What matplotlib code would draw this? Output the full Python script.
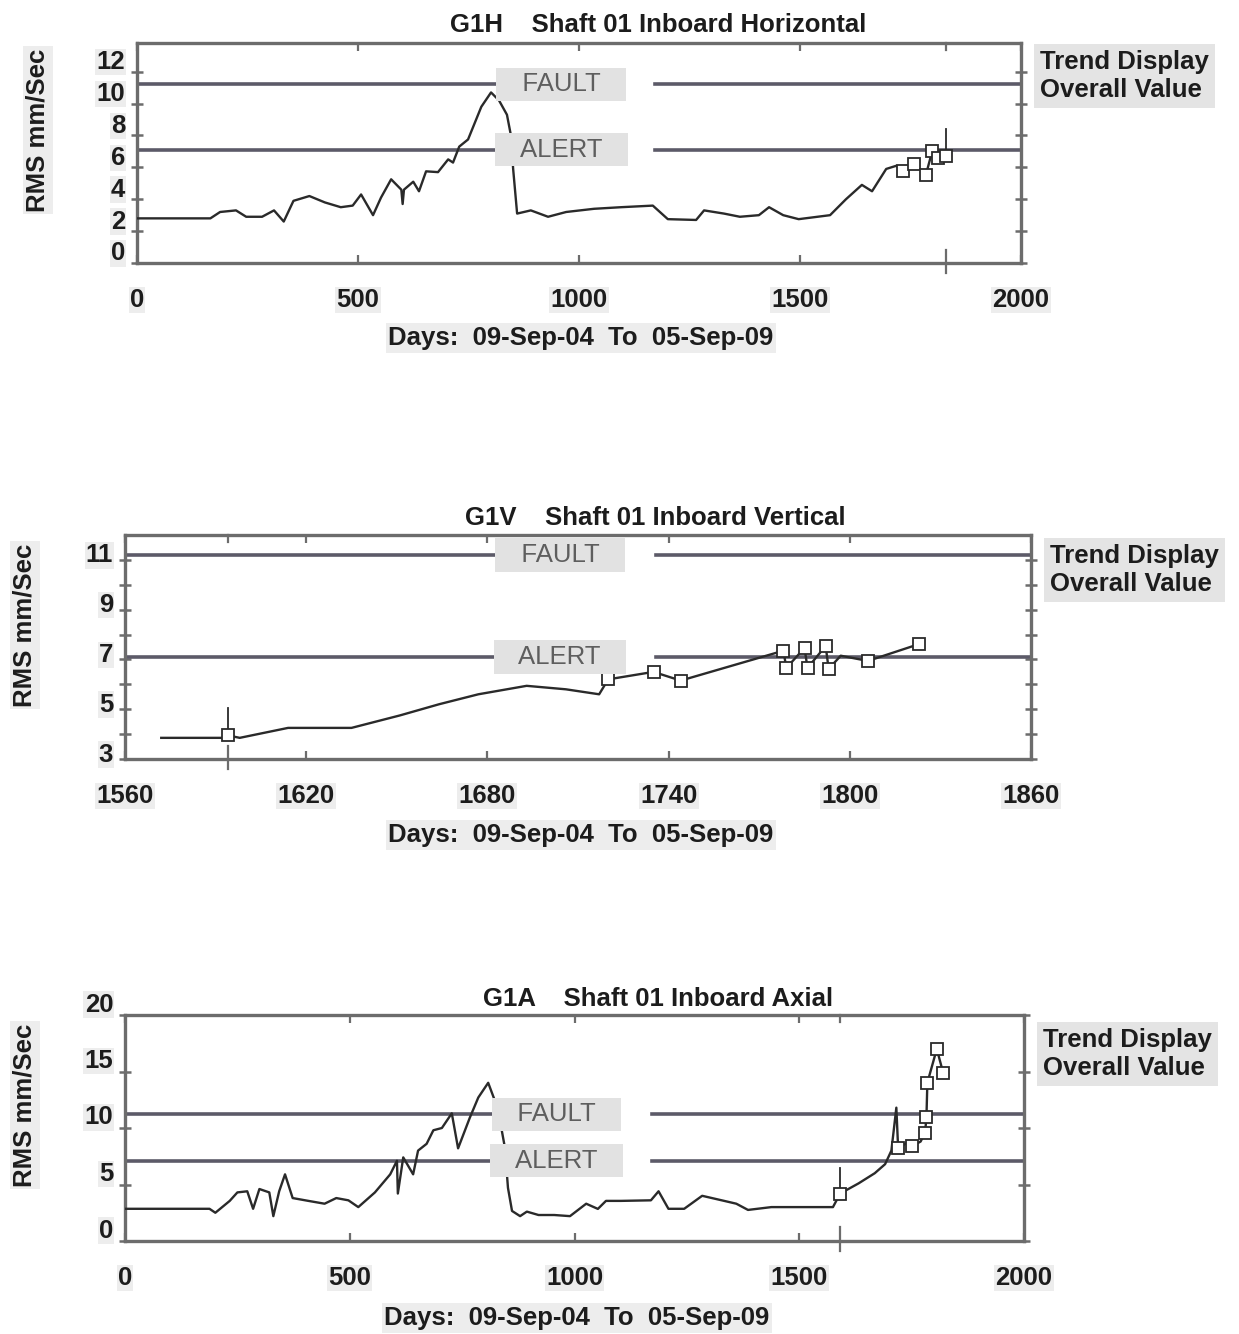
import matplotlib
matplotlib.use("Agg")
import matplotlib.pyplot as plt
import matplotlib.transforms as mtransforms
import numpy as np

plt.rcParams['font.family'] = ['Liberation Sans', 'DejaVu Sans']

W, H, DPI = 1239, 1334, 100

# Alarm levels (mm/s RMS)
FAULT_LEVEL = 11.2
ALERT_LEVEL = 7.1

X_LABEL = "Days:  09-Sep-04  To  05-Sep-09"
Y_LABEL = "RMS mm/Sec"
LEGEND_TEXT = "Trend Display\nOverall Value"

# ---- G1H  Shaft 01 Inboard Horizontal ----
g1h_title = "G1H    Shaft 01 Inboard Horizontal"
g1h_days = [0, 166, 188, 224, 247, 283, 310, 332, 354, 390,
            425, 461, 488, 507, 534, 552, 575, 598, 601, 604,
            625, 638, 654, 681, 704, 715, 729, 749, 779, 801,
            819, 837, 846, 851, 860, 891, 930, 971, 1034, 1095,
            1167, 1201, 1265, 1283, 1328, 1364, 1407, 1430, 1462, 1497,
            1568, 1604, 1640, 1663, 1695, 1718]
g1h_vals = [2.8, 2.8, 3.2, 3.3, 2.9, 2.9, 3.3, 2.6, 3.9, 4.2,
            3.8, 3.5, 3.6, 4.3, 3.0, 4.1, 5.25, 4.6, 3.7, 4.6,
            5.1, 4.5, 5.75, 5.7, 6.5, 6.3, 7.3, 7.75, 9.8, 10.7,
            10.2, 9.3, 8.0, 5.9, 3.1, 3.3, 2.9, 3.2, 3.4, 3.5,
            3.6, 2.75, 2.7, 3.3, 3.1, 2.9, 3.0, 3.5, 3.0, 2.75,
            3.0, 4.0, 4.9, 4.5, 5.9, 6.1]
g1h_mark_days = [1733, 1758, 1785, 1799, 1812, 1830]
g1h_mark_vals = [5.75, 6.2, 5.55, 7.0, 6.6, 6.7]
g1h_cursor_day, g1h_cursor_top = 1830, 8.4
g1h_xticks = [0, 500, 1000, 1500, 2000]
g1h_yticks = [0, 2, 4, 6, 8, 10, 12]

# ---- G1V  Shaft 01 Inboard Vertical ----
g1v_title = "G1V    Shaft 01 Inboard Vertical"
g1v_days = [1572, 1592, 1598, 1614, 1635, 1651, 1664, 1677, 1693, 1706, 1717, 1797]
g1v_vals = [3.85, 3.85, 3.85, 4.25, 4.25, 4.75, 5.2, 5.6, 5.94, 5.8, 5.6, 7.15]
g1v_mark_days = [1594, 1720, 1735, 1744, 1778, 1779, 1785, 1786, 1792, 1793, 1806, 1823]
g1v_mark_vals = [3.95, 6.2, 6.5, 6.15, 7.35, 6.66, 7.46, 6.66, 7.54, 6.62, 6.94, 7.62]
g1v_cursor_day, g1v_cursor_top = 1594, 5.05
g1v_xticks = [1560, 1620, 1680, 1740, 1800, 1860]
g1v_yticks = [3, 5, 7, 9, 11]
g1v_yminor = [4, 6, 8, 10]

# ---- G1A  Shaft 01 Inboard Axial ----
g1a_title = "G1A    Shaft 01 Inboard Axial"
g1a_days = [2, 188, 201, 233, 250, 272, 285, 299, 321, 330,
            343, 356, 373, 408, 444, 470, 497, 519, 556, 590,
            605, 607, 619, 641, 652, 671, 686, 705, 727, 741,
            767, 786, 808, 823, 834, 845, 852, 861, 879, 894,
            920, 955, 990, 1026, 1052, 1070, 1103, 1170, 1187, 1209,
            1244, 1284, 1333, 1360, 1386, 1438, 1518, 1575, 1632, 1668,
            1691, 1705, 1716, 1740, 1770]
g1a_vals = [2.85, 2.85, 2.5, 3.55, 4.3, 4.4, 2.85, 4.6, 4.3, 2.2,
            4.4, 5.9, 3.8, 3.55, 3.3, 3.8, 3.6, 3.0, 4.3, 5.9,
            7.1, 4.2, 7.4, 5.9, 8.0, 8.6, 9.8, 10.0, 11.3, 8.2,
            10.9, 12.7, 14.0, 12.4, 10.7, 8.3, 4.7, 2.66, 2.2, 2.6,
            2.3, 2.3, 2.2, 3.3, 2.84, 3.55, 3.55, 3.6, 4.4, 2.85,
            2.85, 4.0, 3.55, 3.3, 2.75, 3.0, 3.0, 3.0, 5.1, 6.0,
            6.8, 8.0, 11.8, 8.7, 8.8]
g1a_mark_days = [1591, 1720, 1751, 1780, 1783, 1785, 1806, 1820]
g1a_mark_vals = [4.2, 8.2, 8.4, 9.6, 11.0, 14.0, 17.0, 14.9]
g1a_cursor_day, g1a_cursor_top = 1591, 6.5
g1a_xticks = [0, 500, 1000, 1500, 2000]
g1a_yticks = [0, 5, 10, 15, 20]

# ---- styling ----
TEXT = '#1c1c1c'
SPINE = '#6c6c6c'
REF = '#5c5a68'
LINE = '#2a2a2a'
LABEL_BG = '#ededed'
FS = 18.5

fig = plt.figure(figsize=(W / DPI, H / DPI), dpi=DPI)
fig.patch.set_facecolor('white')


def px_axes(left, top, right, bottom):
    return fig.add_axes([left / W, 1 - bottom / H, (right - left) / W, (bottom - top) / H])


def fig_text(x, y, s, **kw):
    return fig.text(x / W, 1 - y / H, s, **kw)


def draw_panel(ax, days, vals, mdays, mvals, cur_day, cur_top, xlim, ylim,
               xticks, yticks, yminor, ylab_shift):
    d = np.array(list(days) + list(mdays), dtype=float)
    v = np.array(list(vals) + list(mvals), dtype=float)
    order = np.argsort(d, kind='stable')
    ax.plot(d[order], v[order], color=LINE, lw=1.7, zorder=3)
    ax.plot(mdays, mvals, ls='none', marker='s', ms=8.5, mfc='white',
            mec=LINE, mew=1.3, zorder=4)

    # cursor at the selected sample
    base = mvals[list(mdays).index(cur_day)]
    ax.plot([cur_day, cur_day], [base, cur_top], color=LINE, lw=1.3, zorder=3)
    xt = mtransforms.blended_transform_factory(ax.transData, ax.transAxes)
    ax.plot([cur_day, cur_day], [-0.045, 0.06], transform=xt, color=SPINE,
            lw=1.6, clip_on=False, zorder=6)
    ax.plot([cur_day, cur_day], [0.97, 1.0], transform=xt, color=SPINE,
            lw=1.6, clip_on=False, zorder=6)

    # alarm levels with their labels
    yt = mtransforms.blended_transform_factory(ax.transAxes, ax.transData)
    for level, name in ((FAULT_LEVEL, 'FAULT'), (ALERT_LEVEL, 'ALERT')):
        ax.plot([0, 0.41], [level, level], transform=yt, color=REF, lw=2.6, zorder=2)
        ax.plot([0.586, 1], [level, level], transform=yt, color=REF, lw=2.6, zorder=2)
        ax.text(0.48, level, "   " + name + "   ", transform=yt, ha='center', va='center',
                fontsize=FS, color='#5e5e5e',
                bbox=dict(boxstyle='square,pad=0.18', fc='#e2e2e2', ec='none'), zorder=5)

    ax.set_xlim(*xlim)
    ax.set_ylim(*ylim)
    ax.set_xticks(xticks)
    ax.set_xticklabels([str(t) for t in xticks])
    ax.set_yticks(yticks)
    ax.set_yticklabels([str(t) for t in yticks])
    if yminor:
        ax.set_yticks(yminor, minor=True)
    ax.tick_params(axis='x', direction='in', length=6, width=1.6, color=SPINE,
                   top=True, pad=18, labelsize=FS, labelcolor=TEXT)
    ax.tick_params(axis='y', which='both', direction='inout', length=9, width=1.8,
                   color=SPINE, right=True, pad=4, labelsize=FS, labelcolor=TEXT)
    for spine in ax.spines.values():
        spine.set_color(SPINE)
        spine.set_linewidth(2.4)
    shift = mtransforms.ScaledTranslation(0, ylab_shift / DPI, fig.dpi_scale_trans)
    for lab in ax.get_yticklabels():
        lab.set_transform(lab.get_transform() + shift)
    for lab in ax.get_xticklabels() + ax.get_yticklabels():
        lab.set_fontweight('bold')
        lab.set_bbox(dict(fc=LABEL_BG, ec='none', pad=1))


bold = dict(fontsize=FS, fontweight='bold', color=TEXT)
lbl_box = dict(boxstyle='square,pad=0.1', fc=LABEL_BG, ec='none')
leg_box = dict(boxstyle='square,pad=0.25', fc='#e4e4e4', ec='none')

# G1H
ax1 = px_axes(137, 43, 1021, 263)
draw_panel(ax1, g1h_days, g1h_vals, g1h_mark_days, g1h_mark_vals,
           g1h_cursor_day, g1h_cursor_top, (0, 2000), (0, 13.8),
           g1h_xticks, g1h_yticks, None, 12)
fig_text(658, 25, g1h_title, ha='center', va='center', **bold)
fig_text(581, 338, X_LABEL, ha='center', va='center', bbox=lbl_box, **bold)
fig_text(38, 130, Y_LABEL, ha='center', va='center', rotation=90, bbox=lbl_box, **bold)
fig_text(1040, 76, LEGEND_TEXT, ha='left', va='center', linespacing=1.2, bbox=leg_box, **bold)

# G1V
ax2 = px_axes(125, 535, 1031, 759)
draw_panel(ax2, g1v_days, g1v_vals, g1v_mark_days, g1v_mark_vals,
           g1v_cursor_day, g1v_cursor_top, (1560, 1860), (3, 12),
           g1v_xticks, g1v_yticks, g1v_yminor, 7)
fig_text(655, 518, g1v_title, ha='center', va='center', **bold)
fig_text(581, 835, X_LABEL, ha='center', va='center', bbox=lbl_box, **bold)
fig_text(25, 625, Y_LABEL, ha='center', va='center', rotation=90, bbox=lbl_box, **bold)
fig_text(1050, 570, LEGEND_TEXT, ha='left', va='center', linespacing=1.2, bbox=leg_box, **bold)

# G1A
ax3 = px_axes(125, 1015, 1024, 1241)
draw_panel(ax3, g1a_days, g1a_vals, g1a_mark_days, g1a_mark_vals,
           g1a_cursor_day, g1a_cursor_top, (0, 2000), (0, 20),
           g1a_xticks, g1a_yticks, None, 13)
fig_text(658, 999, g1a_title, ha='center', va='center', **bold)
fig_text(577, 1318, X_LABEL, ha='center', va='center', bbox=lbl_box, **bold)
fig_text(25, 1105, Y_LABEL, ha='center', va='center', rotation=90, bbox=lbl_box, **bold)
fig_text(1043, 1054, LEGEND_TEXT, ha='left', va='center', linespacing=1.2, bbox=leg_box, **bold)

fig.savefig('out.png', dpi=DPI, facecolor='white')
